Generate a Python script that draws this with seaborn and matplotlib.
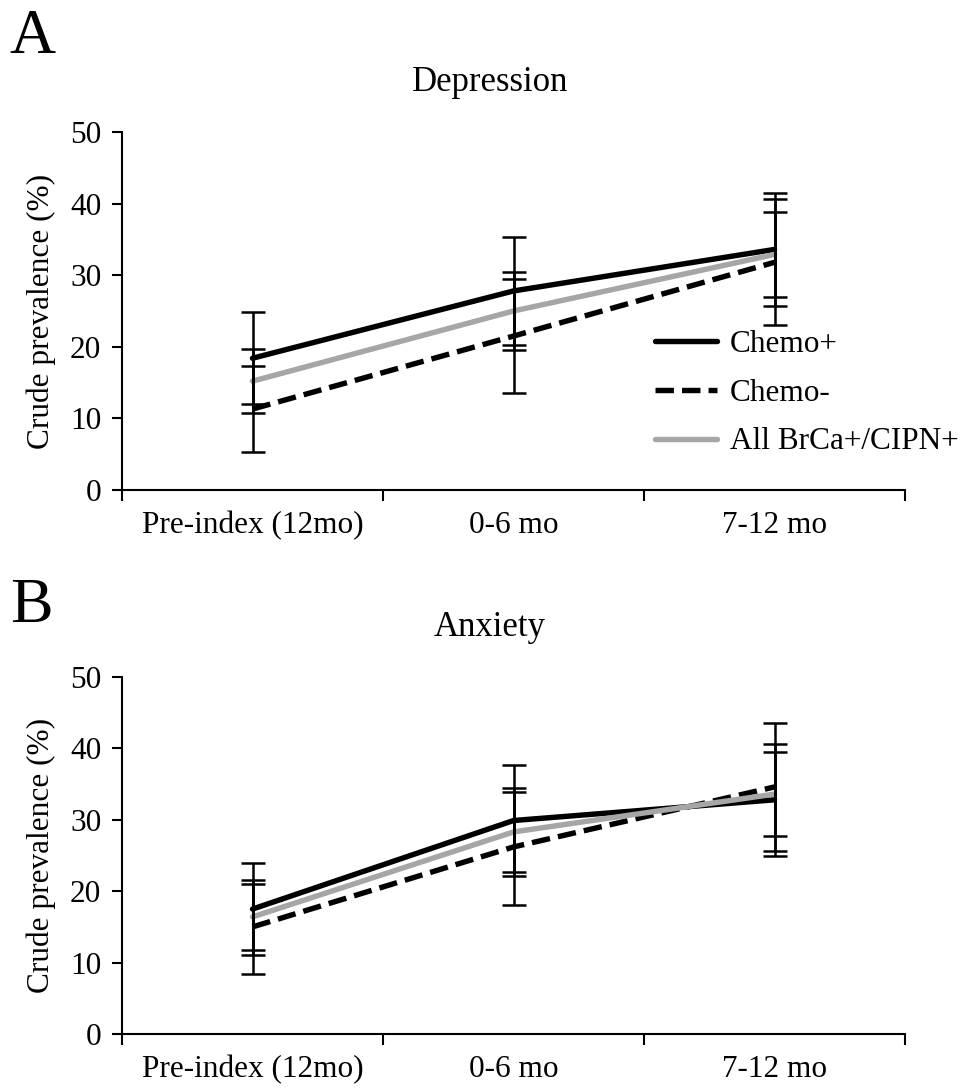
import numpy as np
import pandas as pd
import seaborn as sns
import matplotlib.pyplot as plt

# categories
periods = ['Pre-index (12mo)', '0-6 mo', '7-12 mo']
groups = ['Chemo+', 'Chemo-', 'All BrCa+/CIPN+']

# A: depression (prevalence %, half-width of error bar)
dep_chemo_pos = [18.4, 27.8, 33.6]
dep_chemo_pos_err = [6.4, 7.5, 7.9]
dep_chemo_neg = [11.3, 21.5, 31.8]
dep_chemo_neg_err = [6.0, 7.9, 8.8]
dep_all = [15.2, 25.0, 32.9]
dep_all_err = [4.5, 5.5, 5.9]

# B: anxiety
anx_chemo_pos = [17.5, 29.9, 32.8]
anx_chemo_pos_err = [6.4, 7.8, 7.8]
anx_chemo_neg = [15.0, 26.2, 34.6]
anx_chemo_neg_err = [6.6, 8.2, 8.9]
anx_all = [16.4, 28.3, 33.6]
anx_all_err = [4.6, 5.6, 5.9]

colors = {'Chemo+': 'black', 'Chemo-': 'black', 'All BrCa+/CIPN+': '#a6a6a6'}
dashes = {'Chemo+': '', 'Chemo-': (3.4, 1.5), 'All BrCa+/CIPN+': ''}

sns.set_style('ticks')
plt.rcParams['font.family'] = ['Liberation Serif', 'DejaVu Serif']
for k in ['text.color', 'axes.labelcolor', 'xtick.color', 'ytick.color', 'axes.edgecolor']:
    plt.rcParams[k] = 'black'
FS = 22.5
LW = 3.9


def make_df(vals, errs):
    rows = []
    for g, v, e in zip(groups, vals, errs):
        for i, p in enumerate(periods):
            rows.append({'group': g, 'period': p, 'pos': i, 'prev': v[i], 'err': e[i]})
    return pd.DataFrame(rows)


def panel(ax, df, title_y, title):
    sns.lineplot(data=df, x='pos', y='prev', hue='group', style='group',
                 palette=colors, dashes=dashes, hue_order=groups, style_order=groups,
                 linewidth=LW, estimator=None, sort=False, ax=ax, legend=True)
    for g in groups:
        d = df[df['group'] == g]
        ax.errorbar(d['pos'], d['prev'], yerr=d['err'], fmt='none', ecolor='black',
                    elinewidth=1.8, capsize=8.5, capthick=1.8, zorder=5)
    ax.set_xlim(-0.5, 2.5)
    ax.set_ylim(0, 50)
    ax.set_yticks(np.arange(0, 51, 10))
    ax.set_xticks(range(len(periods)))
    ax.set_xticklabels(periods)
    ax.set_xticks([-0.5, 0.5, 1.5, 2.5], minor=True)
    ax.tick_params(axis='x', which='major', length=0, pad=15, labelsize=FS)
    ax.tick_params(axis='x', which='minor', length=8, width=1.5, direction='out')
    ax.tick_params(axis='y', length=7, width=1.5, pad=8, labelsize=FS)
    ax.set_xlabel('')
    ax.set_ylabel('Crude prevalence (%)', fontsize=FS, labelpad=10)
    for s in ['left', 'bottom']:
        ax.spines[s].set_linewidth(1.5)
        ax.spines[s].set_color('black')
    sns.despine(ax=ax)
    fig.text(0.505, title_y, title, fontsize=25, ha='center', va='center')


fig = plt.figure(figsize=(9.7, 10.91), dpi=100)
axA = fig.add_axes([0.1258, 0.5509, 0.8072, 0.3281])
axB = fig.add_axes([0.1258, 0.0522, 0.8072, 0.3273])

dfA = make_df([dep_chemo_pos, dep_chemo_neg, dep_all], [dep_chemo_pos_err, dep_chemo_neg_err, dep_all_err])
dfB = make_df([anx_chemo_pos, anx_chemo_neg, anx_all], [anx_chemo_pos_err, anx_chemo_neg_err, anx_all_err])

panel(axA, dfA, 0.924, 'Depression')
panel(axB, dfB, 0.4244, 'Anxiety')

handles, labels = axA.get_legend_handles_labels()
for h in handles:
    h.set_linewidth(LW)
axA.get_legend().remove()
axB.get_legend().remove()
fig.legend(handles, labels, loc='center left', bbox_to_anchor=(0.675, 0.6395),
           frameon=False, fontsize=FS, handlelength=2.0, handletextpad=0.4,
           labelspacing=0.63, borderpad=0, borderaxespad=0)

fig.text(0.01, 0.9514, 'A', fontsize=46, va='baseline')
fig.text(0.01, 1 - 622 / 1091, 'B', fontsize=46, va='baseline')

fig.savefig('out.png', dpi=100)
